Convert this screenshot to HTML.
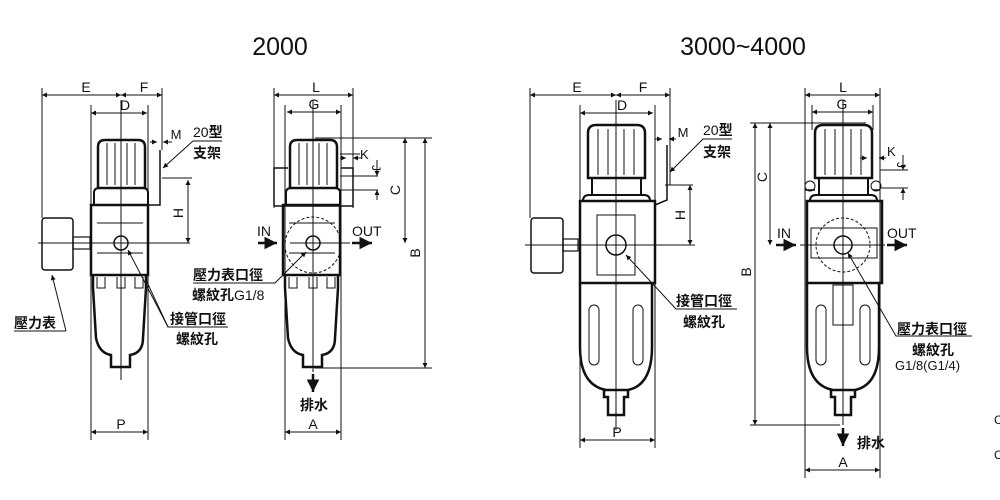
<!DOCTYPE html>
<html><head><meta charset="utf-8"><style>
html,body{margin:0;padding:0;background:#fff}
svg{display:block}
text{font-family:"Liberation Sans","Noto Sans CJK TC",sans-serif;fill:#111}
.cj{font-family:"Noto Sans CJK TC","WenQuanYi Zen Hei",sans-serif;font-weight:bold}
</style></head><body>
<svg width="1000" height="500" viewBox="0 0 1000 500" xmlns="http://www.w3.org/2000/svg">
<defs>
<marker id="a" viewBox="0 0 10 10" refX="10" refY="5" markerWidth="7" markerHeight="5" orient="auto-start-reverse"><path d="M0,0L10,5L0,10z" fill="#111"/></marker>
<g id="small" fill="none" stroke="#111">
 <path d="M-23,-55V-96Q-23,-103 -16,-103H17Q24,-103 24,-96V-55Z" stroke-width="2.5"/>
 <path d="M-14,-100V-58M-6,-100V-58M6,-100V-58M14,-100V-58" stroke-width="1"/>
 <path d="M-27,-38V-50Q-27,-55 -22,-55H22Q27,-55 27,-50V-38" stroke-width="2"/>
 <rect x="-30" y="-38" width="57" height="70" stroke-width="2.5"/>
 <path d="M-24,-20H22M-24,10H22" stroke-width="1"/>
 <circle cx="0" cy="0" r="7" stroke-width="1.5"/>
 <path d="M-28,32V45L-25,95Q-22,110 -10,112V124H9V112Q22,110 22,95L25,45V32" stroke-width="2.5"/>
 <path d="M-24,34V45H-16V34M-4,34V45H4V34M14,34V45H22V34" stroke-width="1"/>
</g>
<g id="big" fill="none" stroke="#111">
 <path d="M-28,-67V-112Q-28,-120 -20,-120H21Q29,-120 29,-112V-67Z" stroke-width="2.5"/>
 <path d="M-18,-116V-70M-8,-116V-70M8,-116V-70M18,-116V-70" stroke-width="1"/>
 <path d="M-24,-67V-50M25,-67V-50" stroke-width="2"/>
 <path d="M-33,-44Q-33,-50 -27,-50H28Q34,-50 34,-44" stroke-width="2"/>
 <path d="M-36,-44H39V38H-36Z" stroke-width="2.5"/>
 <path d="M-36,38V102Q-36,140 -10,145H12Q36,140 36,102V38" stroke-width="2.5"/>
 <rect x="-27" y="60" width="10" height="60" rx="5" stroke-width="1"/>
 <rect x="17" y="60" width="10" height="60" rx="5" stroke-width="1"/>
 <path d="M-12,145V152H-8V170H8V152H12V145" stroke-width="2.5"/>
</g>
</defs>

<text x="280" y="55" font-size="25" text-anchor="middle">2000</text>
<text x="743" y="55" font-size="25" text-anchor="middle">3000~4000</text>

<!-- ===== Figure 1 ===== -->
<g stroke="#111" fill="none" stroke-width="1">
 <use href="#small" x="121" y="243"/>
 <rect x="42" y="218" width="31" height="52" rx="3" stroke-width="1.5"/>
 <rect x="73" y="237" width="17" height="12" stroke-width="1.2"/>
 <path d="M121,100V380M38,243H190"/>
 <path d="M42,88V218M162,88V150M91,105V440M148,105V440"/>
 <path d="M160,150V205H148" stroke-width="1.5"/>
 <path d="M42,95H121" marker-start="url(#a)" marker-end="url(#a)"/>
 <path d="M121,95H162" marker-start="url(#a)" marker-end="url(#a)"/>
 <path d="M91,113H147" marker-start="url(#a)" marker-end="url(#a)"/>
 <path d="M91,432H148" marker-start="url(#a)" marker-end="url(#a)"/>
 <path d="M188,180V243" marker-start="url(#a)" marker-end="url(#a)"/>
 <path d="M162,178H192"/>
 <path d="M150,142H157" marker-end="url(#a)"/><path d="M172,142H163" marker-end="url(#a)"/>
 <path d="M222,141H193L163,168" marker-end="url(#a)"/>
 <path d="M66,331H14M66,331L52,275" marker-end="url(#a)"/>
 <path d="M228,327H168L128,250" marker-end="url(#a)"/>
 <path d="M168,327L146,280"/>
</g>
<text x="86" y="92" font-size="14" text-anchor="middle">E</text>
<text x="144" y="92" font-size="14" text-anchor="middle">F</text>
<text x="125" y="110" font-size="14" text-anchor="middle">D</text>
<text x="176" y="139" font-size="13" text-anchor="middle">M</text>
<text x="193" y="137" font-size="14">20<tspan class="cj">型</tspan></text>
<text x="193" y="158" font-size="14" class="cj">支架</text>
<text x="183" y="213" font-size="14" transform="rotate(-90 183 213)" text-anchor="middle">H</text>
<text x="14" y="328" font-size="14" class="cj">壓力表</text>
<text x="170" y="324" font-size="14" class="cj">接管口徑</text>
<text x="176" y="344" font-size="14" class="cj">螺紋孔</text>
<text x="121" y="429" font-size="14" text-anchor="middle">P</text>

<!-- ===== Figure 2 ===== -->
<g stroke="#111" fill="none" stroke-width="1">
 <path d="M274,206V168H288M341,168H353V206H274" stroke-width="1.5"/>
 <use href="#small" x="313" y="243"/>
 <circle cx="313" cy="245" r="28" stroke-dasharray="3,2"/>
 <path d="M313,100V372M290,243H350"/>
 <path d="M274,88V208M353,88V208M285,105V440M341,105V440"/>
 <path d="M274,95H353" marker-start="url(#a)" marker-end="url(#a)"/>
 <path d="M287,112H341" marker-start="url(#a)" marker-end="url(#a)"/>
 <path d="M285,432H341" marker-start="url(#a)" marker-end="url(#a)"/>
 <path d="M315,138H432M315,368H432M340,176H378M340,190H378M340,154H360"/>
 <path d="M425,138V368" marker-start="url(#a)" marker-end="url(#a)"/>
 <path d="M405,138V243" marker-start="url(#a)" marker-end="url(#a)"/>
 <path d="M377,160V176" marker-end="url(#a)"/><path d="M377,200V190" marker-end="url(#a)"/>
 <path d="M340,158H346" marker-end="url(#a)"/><path d="M362,158H353" marker-end="url(#a)"/>
 <path d="M258,243H277" stroke-width="2.5" marker-end="url(#a)"/>
 <path d="M352,243H372" stroke-width="2.5" marker-end="url(#a)"/>
 <path d="M313,374V392" stroke-width="2.5" marker-end="url(#a)"/>
 <path d="M193,283H275L306,252" marker-end="url(#a)"/>
</g>
<text x="316" y="92" font-size="14" text-anchor="middle">L</text>
<text x="314" y="109" font-size="14" text-anchor="middle">G</text>
<text x="360" y="159" font-size="13">K</text>
<text x="372" y="165" font-size="12" transform="rotate(90 372 165)">J</text>
<text x="400" y="190" font-size="14" transform="rotate(-90 400 190)" text-anchor="middle">C</text>
<text x="420" y="253" font-size="14" transform="rotate(-90 420 253)" text-anchor="middle">B</text>
<text x="257" y="236" font-size="14">IN</text>
<text x="352" y="236" font-size="14">OUT</text>
<text x="193" y="280" font-size="14" class="cj">壓力表口徑</text>
<text x="192" y="300" font-size="14"><tspan class="cj">螺紋孔</tspan>G1/8</text>
<text x="300" y="410" font-size="14" class="cj">排水</text>
<text x="313" y="429" font-size="14" text-anchor="middle">A</text>

<!-- ===== Figure 3 ===== -->
<g stroke="#111" fill="none" stroke-width="1">
 <use href="#big" x="616" y="245"/>
 <rect x="531" y="218" width="32" height="55" rx="3" stroke-width="1.5"/>
 <rect x="563" y="239" width="15" height="12" stroke-width="1.2"/>
 <rect x="597" y="215" width="38" height="60" stroke-width="1"/>
 <circle cx="616" cy="245" r="10" stroke-width="1.5"/>
 <path d="M616,100V430M525,245H695"/>
 <path d="M530,88V218M670,88V185M580,105V448M655,105V448"/>
 <path d="M667,145V200L655,205" stroke-width="1.5"/>
 <path d="M530,95H616" marker-start="url(#a)" marker-end="url(#a)"/>
 <path d="M616,95H670" marker-start="url(#a)" marker-end="url(#a)"/>
 <path d="M580,113H653" marker-start="url(#a)" marker-end="url(#a)"/>
 <path d="M580,440H655" marker-start="url(#a)" marker-end="url(#a)"/>
 <path d="M690,185V245" marker-start="url(#a)" marker-end="url(#a)"/>
 <path d="M665,185H693"/>
 <path d="M655,139H662" marker-end="url(#a)"/><path d="M676,139H669" marker-end="url(#a)"/>
 <path d="M732,139H703L670,172" marker-end="url(#a)"/>
 <path d="M737,309H676L626,255" marker-end="url(#a)"/>
</g>
<text x="577" y="92" font-size="14" text-anchor="middle">E</text>
<text x="643" y="92" font-size="14" text-anchor="middle">F</text>
<text x="622" y="110" font-size="14" text-anchor="middle">D</text>
<text x="683" y="137" font-size="13" text-anchor="middle">M</text>
<text x="703" y="135" font-size="14">20<tspan class="cj">型</tspan></text>
<text x="703" y="157" font-size="14" class="cj">支架</text>
<text x="685" y="215" font-size="14" transform="rotate(-90 685 215)" text-anchor="middle">H</text>
<text x="676" y="306" font-size="14" class="cj">接管口徑</text>
<text x="683" y="327" font-size="14" class="cj">螺紋孔</text>
<text x="617" y="437" font-size="14" text-anchor="middle">P</text>

<!-- ===== Figure 4 ===== -->
<g stroke="#111" fill="none" stroke-width="1">
 <path d="M805,190H815M873,190H880" stroke-width="1.5"/>
 <circle cx="810" cy="186" r="5" stroke-width="1"/><circle cx="876" cy="186" r="5" stroke-width="1"/>
 <use href="#big" x="843" y="245"/>
 <circle cx="843" cy="245" r="27" stroke-dasharray="3,2"/>
 <rect x="811" y="228" width="66" height="30" stroke-width="1"/>
 <circle cx="843" cy="245" r="9" stroke-width="1.5"/>
 <rect x="833" y="285" width="20" height="40" stroke-width="1"/>
 <path d="M843,100V425M800,245H885"/>
 <path d="M805,88V478M880,88V478M812,105V130M873,105V130"/>
 <path d="M805,95H880" marker-start="url(#a)" marker-end="url(#a)"/>
 <path d="M812,112H873" marker-start="url(#a)" marker-end="url(#a)"/>
 <path d="M805,470H880" marker-start="url(#a)" marker-end="url(#a)"/>
 <path d="M750,123H866M750,425H840M880,170H908M880,188H908"/>
 <path d="M755,123V425" marker-start="url(#a)" marker-end="url(#a)"/>
 <path d="M770,123V245" marker-start="url(#a)" marker-end="url(#a)"/>
 <path d="M903,155V170" marker-end="url(#a)"/><path d="M903,200V188" marker-end="url(#a)"/>
 <path d="M860,158H867" marker-end="url(#a)"/><path d="M886,158H879" marker-end="url(#a)"/>
 <path d="M776,245H796" stroke-width="2.5" marker-end="url(#a)"/>
 <path d="M887,245H907" stroke-width="2.5" marker-end="url(#a)"/>
 <path d="M843,428V446" stroke-width="2.5" marker-end="url(#a)"/>
 <path d="M972,336H896L848,253" marker-end="url(#a)"/>
</g>
<text x="843" y="92" font-size="14" text-anchor="middle">L</text>
<text x="842" y="109" font-size="14" text-anchor="middle">G</text>
<text x="887" y="156" font-size="13">K</text>
<text x="897" y="162" font-size="12" transform="rotate(90 897 162)">J</text>
<text x="767" y="177" font-size="14" transform="rotate(-90 767 177)" text-anchor="middle">C</text>
<text x="751" y="272" font-size="14" transform="rotate(-90 751 272)" text-anchor="middle">B</text>
<text x="777" y="238" font-size="14">IN</text>
<text x="887" y="238" font-size="14">OUT</text>
<text x="897" y="334" font-size="14" class="cj">壓力表口徑</text>
<text x="912" y="355" font-size="14" class="cj">螺紋孔</text>
<text x="895" y="370" font-size="13">G1/8(G1/4)</text>
<text x="857" y="448" font-size="14" class="cj">排水</text>
<text x="843" y="467" font-size="14" text-anchor="middle">A</text>
<text x="994" y="424" font-size="12">C</text>
<text x="994" y="459" font-size="12">C</text>
</svg>
</body></html>
